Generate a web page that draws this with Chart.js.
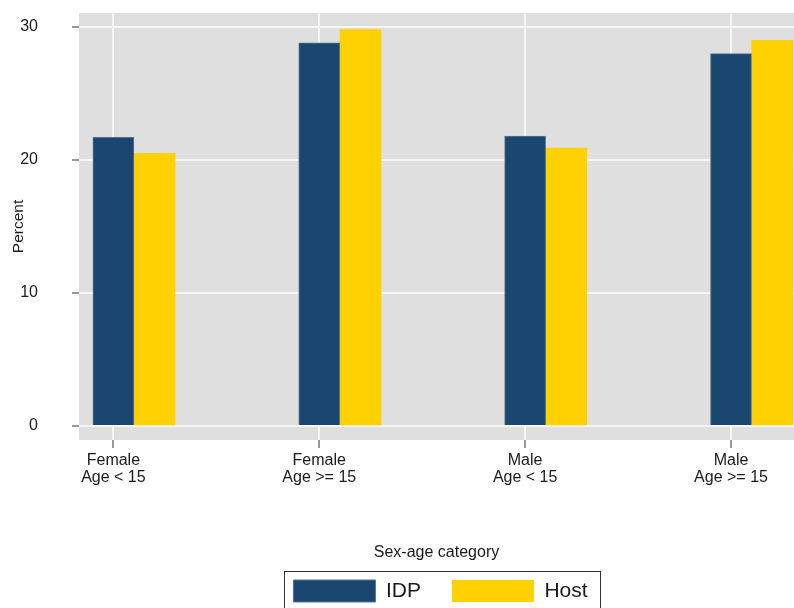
<!DOCTYPE html>
<html>
<head>
<meta charset="utf-8">
<script src="https://cdn.jsdelivr.net/npm/chart.js@4"></script>
<style>
  html, body { margin: 0; padding: 0; background: #fff; }
  #wrap { width: 794px; height: 608px; }
</style>
</head>
<body>
<div id="wrap"><canvas id="chart"></canvas></div>
<script>
const categories = [
  ['Female', 'Age < 15'],
  ['Female', 'Age >= 15'],
  ['Male', 'Age < 15'],
  ['Male', 'Age >= 15']
];
const idpValues = [21.7, 28.8, 21.8, 28.0];
const hostValues = [20.5, 29.8, 20.9, 29.0];
const yTicks = [0, 10, 20, 30];

const fontFamily = "'Liberation Sans', Arial, sans-serif";
const xMin = 0.833, xMax = 4.306;
const barShift = 0.2; // host bar sits one bar width right of the idp bar

Chart.defaults.font.family = fontFamily;
Chart.defaults.color = '#1a1a1a';

// grey plot region like stata
const plotBackground = {
  id: 'plotBackground',
  beforeDraw(chart) {
    const {ctx, chartArea} = chart;
    ctx.save();
    ctx.fillStyle = '#dfdfdf';
    ctx.fillRect(chartArea.left, chartArea.top, chartArea.right - chartArea.left, chartArea.bottom - chartArea.top);
    ctx.restore();
  }
};

// legend is centred on the plot a bit right of chart.js' centre
const legendNudge = {
  id: 'legendNudge',
  afterLayout(chart) {
    if (!chart.legend) return;
    chart.legend.left += 4;
    chart.legend.right += 4;
  }
};

// frame around the legend items
const legendFrame = {
  id: 'legendFrame',
  afterDraw(chart) {
    const boxes = chart.legend && chart.legend.legendHitBoxes;
    if (!boxes || !boxes.length) return;
    const first = boxes[0];
    const last = boxes[boxes.length - 1];
    const ctx = chart.ctx;
    const left = Math.round(first.left - 9) + 0.5;
    const top = Math.round(first.top - 9) + 0.5;
    const right = Math.round(last.left + last.width + 12) + 0.5;
    ctx.save();
    ctx.strokeStyle = '#333';
    ctx.lineWidth = 1;
    ctx.strokeRect(left, top, right - left, 80);
    ctx.restore();
  }
};

const chartCanvas = document.getElementById('chart');

const chartData = {
  datasets: [{
    label: 'IDP',
    data: idpValues.map((v, i) => ({x: i + 1, y: v})),
    backgroundColor: '#1a476f',
    borderColor: '#56728d',
    borderWidth: 1,
    xAxisID: 'x'
  }, {
    label: 'Host',
    data: hostValues.map((v, i) => ({x: i + 1, y: v})),
    backgroundColor: '#ffd100',
    borderWidth: 0,
    xAxisID: 'x2'
  }]
};

const chartOptions = {
  responsive: true,
  maintainAspectRatio: false,
  animation: false,
  devicePixelRatio: 1,
  barThickness: 41,
  grouped: false,
  layout: {
    padding: {top: 13, right: 0, bottom: -4, left: 0}
  },
  scales: {
    x: {
      type: 'linear',
      min: xMin,
      max: xMax,
      offset: false,
      afterBuildTicks: (axis) => {
        axis.ticks = categories.map((c, i) => ({value: i + 1}));
      },
      afterFit: (axis) => { axis.height = 109; },
      grid: {
        offset: false,
        color: '#f6f6f6',
        lineWidth: 2,
        tickColor: '#333',
        tickWidth: 1,
        tickLength: 8
      },
      border: {display: false},
      ticks: {
        autoSkip: false,
        maxRotation: 0,
        padding: 4,
        color: '#1a1a1a',
        font: {size: 16, lineHeight: 1.05},
        callback: (value) => categories[value - 1] || ''
      },
      title: {
        display: true,
        text: 'Sex-age category',
        color: '#1a1a1a',
        font: {size: 16},
        padding: {top: 0, bottom: -13}
      }
    },
    x2: {
      type: 'linear',
      display: false,
      offset: false,
      min: xMin - barShift,
      max: xMax - barShift,
      grid: {display: false, offset: false}
    },
    y: {
      min: -1.05,
      max: 31.05,
      afterBuildTicks: (axis) => {
        axis.ticks = yTicks.map(v => ({value: v}));
      },
      afterFit: (axis) => {
        axis.width = 79;
        axis.paddingTop = 0;
        axis.paddingBottom = 0;
      },
      grid: {
        color: '#f6f6f6',
        lineWidth: 2,
        tickColor: '#333',
        tickWidth: 1,
        tickLength: 7
      },
      border: {display: false},
      ticks: {
        padding: 34,
        color: '#1a1a1a',
        font: {size: 16}
      },
      title: {
        display: true,
        text: 'Percent',
        color: '#1a1a1a',
        font: {size: 15.5},
        padding: {top: 9.4, bottom: 0}
      }
    }
  },
  plugins: {
    legend: {
      position: 'bottom',
      fullSize: false,
      labels: {
        boxWidth: 82,
        boxHeight: 22,
        padding: 31,
        color: '#1a1a1a',
        font: {size: 21}
      }
    },
    tooltip: {enabled: false}
  }
};

let barChart = new Chart(chartCanvas, {
  type: 'bar',
  data: chartData,
  options: chartOptions,
  plugins: [plotBackground, legendNudge, legendFrame]
});
</script>
</body>
</html>
